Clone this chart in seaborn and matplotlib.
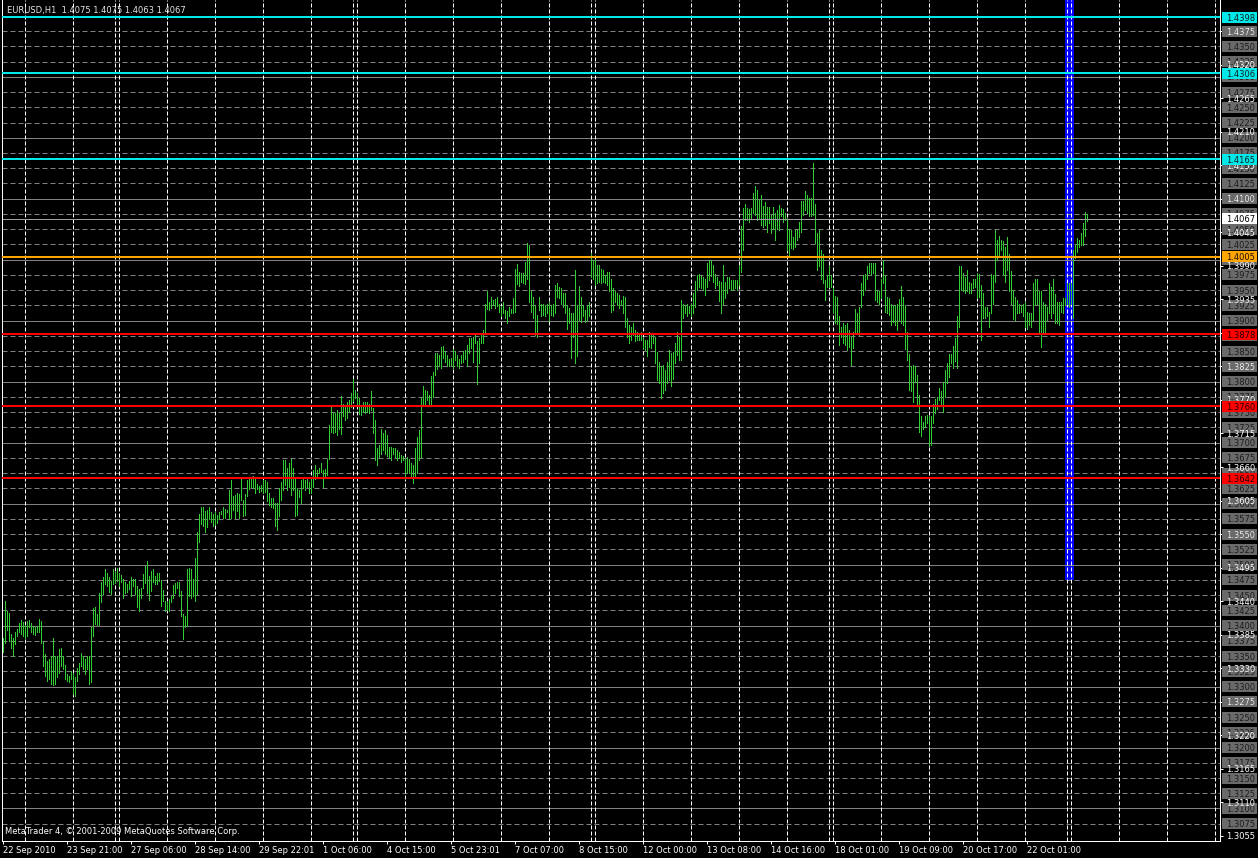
"""
plot.py
=======
MetaTrader-style EURUSD H1 bar chart, redrawn with seaborn/matplotlib.
"""

import numpy as np
import pandas as pd
import matplotlib
matplotlib.use("Agg")
import matplotlib.pyplot as plt
import matplotlib.transforms as mtransforms
from matplotlib.patches import Rectangle
import seaborn as sns

# ── Colours ───────────────────────────────────────────────────────────────────
BG        = "#000000"
BAR_COL   = "#32cd32"
GRID_GRAY = "#808080"
BOX_GRAY  = "#6a6a6a"
BOX_TEXT  = "#1c1c1c"
WHITE     = "#ffffff"
CYAN      = "#00e8e8"
RED       = "#ff0000"
ORANGE    = "#ffa500"
BLUE      = "#0000ff"
BID_GRAY  = "#a0a0a0"

# ── Data: hourly bars (high / low), 22 Sep 2010 13:00 onwards ────────────────
HIGH = [
    1.3380, 1.3441, 1.3424, 1.3420, 1.3386, 1.3379, 1.3390, 1.3395, 1.3405, 1.3409,
    1.3406, 1.3401, 1.3408, 1.3409, 1.3405, 1.3400, 1.3397, 1.3400, 1.3411, 1.3408,
    1.3373, 1.3353, 1.3342, 1.3345, 1.3350, 1.3379, 1.3350, 1.3350, 1.3362, 1.3364,
    1.3350, 1.3335, 1.3320, 1.3317, 1.3326, 1.3323, 1.3315, 1.3331, 1.3339, 1.3355,
    1.3350, 1.3345, 1.3350, 1.3350, 1.3397, 1.3428, 1.3431, 1.3419, 1.3454, 1.3471,
    1.3479, 1.3493, 1.3487, 1.3479, 1.3473, 1.3493, 1.3488, 1.3494, 1.3487, 1.3483,
    1.3477, 1.3471, 1.3468, 1.3473, 1.3479, 1.3477, 1.3476, 1.3465, 1.3460, 1.3462,
    1.3484, 1.3498, 1.3506, 1.3482, 1.3490, 1.3493, 1.3482, 1.3487, 1.3486, 1.3475,
    1.3459, 1.3441, 1.3439, 1.3443, 1.3449, 1.3466, 1.3470, 1.3471, 1.3471, 1.3457,
    1.3419, 1.3416, 1.3493, 1.3494, 1.3492, 1.3476, 1.3510, 1.3553, 1.3583, 1.3594,
    1.3594, 1.3588, 1.3590, 1.3594, 1.3586, 1.3583, 1.3587, 1.3581, 1.3587, 1.3588,
    1.3594, 1.3591, 1.3590, 1.3623, 1.3638, 1.3612, 1.3614, 1.3618, 1.3616, 1.3640,
    1.3606, 1.3616, 1.3638, 1.3640, 1.3640, 1.3646, 1.3640, 1.3632, 1.3629, 1.3631,
    1.3638, 1.3638, 1.3636, 1.3618, 1.3610, 1.3610, 1.3601, 1.3601, 1.3625, 1.3636,
    1.3671, 1.3671, 1.3658, 1.3666, 1.3673, 1.3658, 1.3644, 1.3625, 1.3622, 1.3639,
    1.3644, 1.3639, 1.3641, 1.3636, 1.3641, 1.3655, 1.3663, 1.3655, 1.3659, 1.3666,
    1.3655, 1.3656, 1.3673, 1.3729, 1.3762, 1.3751, 1.3749, 1.3753, 1.3748, 1.3776,
    1.3764, 1.3759, 1.3766, 1.3770, 1.3782, 1.3804, 1.3787, 1.3782, 1.3773, 1.3759,
    1.3767, 1.3766, 1.3767, 1.3764, 1.3784, 1.3756, 1.3737, 1.3691, 1.3696, 1.3723,
    1.3716, 1.3721, 1.3712, 1.3693, 1.3693, 1.3692, 1.3691, 1.3688, 1.3684, 1.3680,
    1.3678, 1.3673, 1.3677, 1.3673, 1.3666, 1.3663, 1.3691, 1.3710, 1.3721, 1.3773,
    1.3793, 1.3786, 1.3785, 1.3778, 1.3809, 1.3816, 1.3847, 1.3847, 1.3843, 1.3857,
    1.3858, 1.3851, 1.3844, 1.3837, 1.3838, 1.3854, 1.3851, 1.3844, 1.3837, 1.3844,
    1.3851, 1.3852, 1.3860, 1.3871, 1.3871, 1.3874, 1.3879, 1.3866, 1.3871, 1.3876,
    1.3885, 1.3927, 1.3948, 1.3931, 1.3939, 1.3934, 1.3935, 1.3939, 1.3927, 1.3924,
    1.3931, 1.3917, 1.3916, 1.3923, 1.3919, 1.3937, 1.3984, 1.3993, 1.3980, 1.3978,
    1.3978, 1.3997, 1.4028, 1.4024, 1.3948, 1.3939, 1.3926, 1.3909, 1.3939, 1.3928,
    1.3927, 1.3926, 1.3928, 1.3931, 1.3926, 1.3928, 1.3958, 1.3961, 1.3956, 1.3953,
    1.3945, 1.3945, 1.3926, 1.3920, 1.3912, 1.3912, 1.3983, 1.3926, 1.3957, 1.3939,
    1.3926, 1.3917, 1.3926, 1.3931, 1.4010, 1.3999, 1.3999, 1.3991, 1.3991, 1.3984,
    1.3983, 1.3975, 1.3980, 1.3980, 1.3969, 1.3953, 1.3948, 1.3945, 1.3942, 1.3934,
    1.3940, 1.3939, 1.3904, 1.3893, 1.3890, 1.3896, 1.3885, 1.3882, 1.3880, 1.3882,
    1.3871, 1.3868, 1.3868, 1.3882, 1.3880, 1.3879, 1.3874, 1.3849, 1.3833, 1.3825,
    1.3827, 1.3819, 1.3833, 1.3852, 1.3847, 1.3849, 1.3864, 1.3882, 1.3874, 1.3934,
    1.3927, 1.3926, 1.3928, 1.3924, 1.3928, 1.3946, 1.3965, 1.3975, 1.3976, 1.3975,
    1.3972, 1.3969, 1.3994, 1.3999, 1.3999, 1.3991, 1.3976, 1.3972, 1.3965, 1.3964,
    1.3991, 1.3964, 1.3972, 1.3971, 1.3966, 1.3966, 1.3966, 1.3967, 1.3990, 1.4055,
    1.4084, 1.4092, 1.4084, 1.4083, 1.4084, 1.4109, 1.4121, 1.4115, 1.4098, 1.4106,
    1.4088, 1.4095, 1.4087, 1.4087, 1.4073, 1.4087, 1.4076, 1.4081, 1.4090, 1.4084,
    1.4083, 1.4076, 1.4068, 1.4051, 1.4049, 1.4037, 1.4048, 1.4049, 1.4062, 1.4097,
    1.4097, 1.4113, 1.4106, 1.4101, 1.4101, 1.4158, 1.4092, 1.4043, 1.4049, 1.4016,
    1.4010, 1.3967, 1.3975, 1.3989, 1.3975, 1.3953, 1.3940, 1.3939, 1.3908, 1.3890,
    1.3896, 1.3893, 1.3896, 1.3885, 1.3874, 1.3882, 1.3919, 1.3912, 1.3923, 1.3961,
    1.3975, 1.3976, 1.3989, 1.3994, 1.3995, 1.3994, 1.3994, 1.3950, 1.3948, 1.3969,
    1.3999, 1.3975, 1.3939, 1.3938, 1.3928, 1.3926, 1.3926, 1.3928, 1.3935, 1.3957,
    1.3939, 1.3926, 1.3882, 1.3846, 1.3825, 1.3827, 1.3825, 1.3811, 1.3778, 1.3744,
    1.3734, 1.3743, 1.3745, 1.3744, 1.3744, 1.3764, 1.3771, 1.3775, 1.3789, 1.3785,
    1.3800, 1.3819, 1.3830, 1.3846, 1.3846, 1.3858, 1.3871, 1.3908, 1.3990, 1.3989,
    1.3978, 1.3972, 1.3983, 1.3964, 1.3961, 1.3969, 1.3969, 1.3979, 1.3976, 1.3958,
    1.3945, 1.3923, 1.3923, 1.3915, 1.3976, 1.3975, 1.4049, 1.4033, 1.4039, 1.4033,
    1.4030, 1.4021, 1.4037, 1.4010, 1.3982, 1.3950, 1.3939, 1.3934, 1.3928, 1.3926,
    1.3927, 1.3931, 1.3915, 1.3912, 1.3912, 1.3961, 1.3969, 1.3968, 1.3948, 1.3948,
    1.3931, 1.3928, 1.3923, 1.3961, 1.3956, 1.3969, 1.3944, 1.3931, 1.3931, 1.3931,
    1.3937, 1.3937, 1.3961, 1.3962, 1.3961, 1.4016, 1.4024, 1.4035, 1.4033, 1.4043,
    1.4061, 1.4079, 1.4075,
]

LOW = [
    1.3357, 1.3372, 1.3393, 1.3375, 1.3364, 1.3350, 1.3370, 1.3383, 1.3389, 1.3386,
    1.3383, 1.3379, 1.3383, 1.3397, 1.3390, 1.3386, 1.3384, 1.3389, 1.3390, 1.3372,
    1.3334, 1.3318, 1.3309, 1.3313, 1.3304, 1.3302, 1.3304, 1.3315, 1.3323, 1.3334,
    1.3328, 1.3312, 1.3309, 1.3307, 1.3312, 1.3287, 1.3285, 1.3309, 1.3320, 1.3334,
    1.3328, 1.3320, 1.3328, 1.3304, 1.3307, 1.3383, 1.3402, 1.3401, 1.3401, 1.3439,
    1.3452, 1.3468, 1.3465, 1.3455, 1.3452, 1.3468, 1.3470, 1.3473, 1.3465, 1.3471,
    1.3446, 1.3454, 1.3455, 1.3460, 1.3449, 1.3465, 1.3452, 1.3430, 1.3424, 1.3446,
    1.3462, 1.3470, 1.3454, 1.3442, 1.3457, 1.3471, 1.3468, 1.3468, 1.3473, 1.3432,
    1.3441, 1.3424, 1.3426, 1.3424, 1.3438, 1.3446, 1.3454, 1.3462, 1.3448, 1.3416,
    1.3378, 1.3397, 1.3400, 1.3449, 1.3446, 1.3449, 1.3441, 1.3452, 1.3537, 1.3566,
    1.3564, 1.3554, 1.3562, 1.3574, 1.3570, 1.3563, 1.3565, 1.3568, 1.3574, 1.3583,
    1.3576, 1.3576, 1.3586, 1.3574, 1.3576, 1.3590, 1.3576, 1.3588, 1.3576, 1.3606,
    1.3580, 1.3581, 1.3613, 1.3624, 1.3628, 1.3625, 1.3618, 1.3624, 1.3619, 1.3621,
    1.3618, 1.3619, 1.3605, 1.3597, 1.3594, 1.3592, 1.3564, 1.3557, 1.3580, 1.3606,
    1.3622, 1.3630, 1.3622, 1.3628, 1.3614, 1.3622, 1.3580, 1.3581, 1.3611, 1.3601,
    1.3625, 1.3622, 1.3628, 1.3617, 1.3617, 1.3628, 1.3641, 1.3644, 1.3650, 1.3652,
    1.3628, 1.3644, 1.3647, 1.3673, 1.3718, 1.3715, 1.3718, 1.3712, 1.3723, 1.3714,
    1.3743, 1.3737, 1.3740, 1.3751, 1.3759, 1.3769, 1.3774, 1.3762, 1.3747, 1.3745,
    1.3751, 1.3749, 1.3751, 1.3748, 1.3753, 1.3715, 1.3671, 1.3663, 1.3677, 1.3682,
    1.3688, 1.3682, 1.3678, 1.3677, 1.3671, 1.3681, 1.3674, 1.3671, 1.3674, 1.3669,
    1.3671, 1.3641, 1.3650, 1.3650, 1.3644, 1.3634, 1.3644, 1.3650, 1.3672, 1.3677,
    1.3762, 1.3762, 1.3770, 1.3762, 1.3760, 1.3775, 1.3811, 1.3820, 1.3826, 1.3822,
    1.3838, 1.3833, 1.3826, 1.3825, 1.3827, 1.3823, 1.3836, 1.3825, 1.3822, 1.3830,
    1.3833, 1.3837, 1.3826, 1.3847, 1.3855, 1.3833, 1.3863, 1.3796, 1.3831, 1.3863,
    1.3863, 1.3882, 1.3919, 1.3917, 1.3920, 1.3926, 1.3920, 1.3924, 1.3915, 1.3908,
    1.3912, 1.3904, 1.3896, 1.3908, 1.3912, 1.3913, 1.3915, 1.3960, 1.3957, 1.3964,
    1.3961, 1.3960, 1.3969, 1.3931, 1.3915, 1.3904, 1.3876, 1.3874, 1.3917, 1.3907,
    1.3909, 1.3907, 1.3912, 1.3900, 1.3909, 1.3907, 1.3912, 1.3939, 1.3937, 1.3928,
    1.3923, 1.3913, 1.3887, 1.3896, 1.3838, 1.3874, 1.3830, 1.3842, 1.3901, 1.3898,
    1.3907, 1.3898, 1.3901, 1.3907, 1.3972, 1.3969, 1.3958, 1.3961, 1.3964, 1.3961,
    1.3964, 1.3961, 1.3958, 1.3948, 1.3915, 1.3917, 1.3931, 1.3926, 1.3920, 1.3926,
    1.3913, 1.3890, 1.3874, 1.3863, 1.3868, 1.3876, 1.3866, 1.3868, 1.3868, 1.3868,
    1.3855, 1.3852, 1.3842, 1.3857, 1.3855, 1.3863, 1.3830, 1.3803, 1.3798, 1.3773,
    1.3781, 1.3786, 1.3797, 1.3803, 1.3793, 1.3805, 1.3830, 1.3844, 1.3836, 1.3836,
    1.3904, 1.3912, 1.3907, 1.3912, 1.3907, 1.3912, 1.3923, 1.3950, 1.3956, 1.3953,
    1.3950, 1.3942, 1.3956, 1.3967, 1.3973, 1.3964, 1.3953, 1.3958, 1.3933, 1.3912,
    1.3928, 1.3937, 1.3945, 1.3953, 1.3951, 1.3951, 1.3953, 1.3951, 1.3958, 1.3980,
    1.4016, 1.4065, 1.4065, 1.4062, 1.4068, 1.4076, 1.4073, 1.4065, 1.4068, 1.4057,
    1.4054, 1.4057, 1.4046, 1.4060, 1.4044, 1.4051, 1.4032, 1.4051, 1.4049, 1.4071,
    1.4062, 1.4065, 1.4016, 1.4008, 1.4019, 1.4017, 1.4021, 1.4032, 1.4038, 1.4046,
    1.4073, 1.4081, 1.4076, 1.4071, 1.4071, 1.4073, 1.4027, 1.3983, 1.3989, 1.3969,
    1.3961, 1.3934, 1.3956, 1.3956, 1.3956, 1.3915, 1.3896, 1.3895, 1.3860, 1.3874,
    1.3863, 1.3860, 1.3852, 1.3857, 1.3827, 1.3855, 1.3882, 1.3882, 1.3876, 1.3923,
    1.3942, 1.3950, 1.3969, 1.3978, 1.3975, 1.3978, 1.3934, 1.3931, 1.3927, 1.3937,
    1.3961, 1.3915, 1.3913, 1.3909, 1.3893, 1.3898, 1.3893, 1.3885, 1.3901, 1.3896,
    1.3893, 1.3853, 1.3836, 1.3786, 1.3785, 1.3767, 1.3800, 1.3762, 1.3718, 1.3711,
    1.3722, 1.3726, 1.3732, 1.3694, 1.3696, 1.3732, 1.3748, 1.3755, 1.3770, 1.3762,
    1.3751, 1.3775, 1.3797, 1.3808, 1.3830, 1.3822, 1.3834, 1.3822, 1.3890, 1.3950,
    1.3948, 1.3945, 1.3948, 1.3945, 1.3945, 1.3953, 1.3956, 1.3937, 1.3939, 1.3868,
    1.3904, 1.3904, 1.3907, 1.3890, 1.3912, 1.3928, 1.3964, 1.3999, 1.4008, 1.4016,
    1.3975, 1.3964, 1.3983, 1.3948, 1.3928, 1.3902, 1.3901, 1.3912, 1.3912, 1.3915,
    1.3908, 1.3890, 1.3887, 1.3893, 1.3890, 1.3901, 1.3926, 1.3928, 1.3879, 1.3857,
    1.3879, 1.3879, 1.3901, 1.3912, 1.3904, 1.3912, 1.3896, 1.3896, 1.3893, 1.3915,
    1.3912, 1.3926, 1.3928, 1.3923, 1.3928, 1.3905, 1.4002, 1.4013, 1.4021, 1.4024,
    1.4024, 1.4039, 1.4063,
]

# bars per trading day (Wed 22 Sep partial ... Mon 25 Oct, then empty future days)
DAY_BARS = [11, 24, 21, 2,
            24, 24, 24, 24, 21, 2,
            24, 24, 24, 24, 21, 2,
            24, 24, 24, 24, 21, 2,
            24, 24, 24, 24, 21, 2,
            24, 24, 24, 24]

TIME_LABELS = ["22 Sep 2010", "23 Sep 21:00", "27 Sep 06:00", "28 Sep 14:00",
               "29 Sep 22:01", "1 Oct 06:00", "4 Oct 15:00", "5 Oct 23:01",
               "7 Oct 07:00", "8 Oct 15:00", "12 Oct 00:00", "13 Oct 08:00",
               "14 Oct 16:00", "18 Oct 01:00", "19 Oct 09:00", "20 Oct 17:00",
               "22 Oct 01:00"]
LABEL_STEP = 32

CYAN_LEVELS   = [1.4398, 1.4306, 1.4165]
ORANGE_LEVELS = [1.4005]
RED_LEVELS    = [1.3878, 1.3760, 1.3642]
BID_LEVEL     = 1.4067

LINE_STEP  = 0.0025          # horizontal level lines every 25 pips
LINE_RANGE = (1.3075, 1.4375)
SCALE_STEP = 0.0055          # native price scale
SCALE_RANGE = (1.3055, 1.4375)

BAND_BARS = (530.75, 535.25)  # blue vertical marker
BAND_LOW  = 1.3475

TITLE = "EURUSD,H1  1.4075 1.4075 1.4063 1.4067"
FOOTER = "MetaTrader 4, \u00a9 2001-2009 MetaQuotes Software Corp."

# ── Layout (pixels) ───────────────────────────────────────────────────────────
W, H = 1258, 858
PX = 0.72                     # one pixel in points at dpi 100
Y_TOP, Y_BOTTOM = 1.44259, 1.30467
X_LIM = (-0.5, 608.5)

sns.set_style("dark", {"axes.facecolor": BG, "figure.facecolor": BG})
plt.rcParams["font.family"] = ["DejaVu Sans"]

fig = plt.figure(figsize=(W / 100, H / 100), dpi=100)
ax = fig.add_axes([2 / W, 17 / H, 1218 / W, 841 / H])
ax.set_facecolor(BG)
ax.grid(False)

# blue band behind everything
ax.add_patch(Rectangle((BAND_BARS[0], BAND_LOW), BAND_BARS[1] - BAND_BARS[0],
                       Y_TOP - BAND_LOW, fc=BLUE, ec="none", zorder=0.5))

# gray horizontal level lines
levels = np.round(np.arange(LINE_RANGE[0], LINE_RANGE[1] + 1e-9, LINE_STEP), 4)
for lv in levels:
    solid = abs(lv * 100 - round(lv * 100)) < 1e-6
    ax.axhline(lv, color=GRID_GRAY, lw=PX, ls="-" if solid else (0, (5, 3)),
               zorder=1)

# day separators
day_starts = np.cumsum(DAY_BARS)[:-1]
for s in day_starts:
    ax.axvline(s, color=WHITE, lw=PX, ls=(0, (4, 2)), zorder=1.5)

# price bars
idx = np.arange(len(HIGH))
df = pd.DataFrame({"bar": np.repeat(idx, 2),
                   "price": np.column_stack([LOW, HIGH]).ravel()})
n_before = len(ax.lines)
sns.lineplot(data=df, x="bar", y="price", units="bar", estimator=None,
             sort=False, color=BAR_COL, linewidth=PX, ax=ax, legend=False,
             zorder=2)
for ln in ax.lines[n_before:]:
    ln.set_antialiased(False)

# coloured levels
ax.axhline(BID_LEVEL, color=BID_GRAY, lw=PX, zorder=2.5)
for lv in CYAN_LEVELS:
    ax.axhline(lv, color=CYAN, lw=2 * PX, zorder=3)
for lv in ORANGE_LEVELS:
    ax.axhline(lv, color=ORANGE, lw=2 * PX, zorder=3)
for lv in RED_LEVELS:
    ax.axhline(lv, color=RED, lw=2 * PX, zorder=3)

ax.set_xlim(*X_LIM)
ax.set_ylim(Y_BOTTOM, Y_TOP)
ax.set_xlabel("")
ax.set_ylabel("")

# axes frame
for side in ("left", "bottom", "right"):
    ax.spines[side].set_visible(True)
    ax.spines[side].set_color(WHITE)
    ax.spines[side].set_linewidth(PX)
ax.spines["top"].set_visible(False)

# bottom time axis
ax.set_xticks(np.arange(len(TIME_LABELS)) * LABEL_STEP)
ax.set_xticklabels(TIME_LABELS, ha="left")
ax.tick_params(axis="x", direction="out", length=3 * PX, width=PX,
               colors=WHITE, labelsize=6, pad=1.5, bottom=True)

# right price scale ticks (labels drawn by hand below)
scale = np.round(np.arange(SCALE_RANGE[0], SCALE_RANGE[1] + 1e-9, SCALE_STEP), 4)
ax.yaxis.set_ticks_position("right")
ax.set_yticks(scale)
ax.tick_params(axis="y", direction="out", length=3 * PX, width=PX,
               colors=WHITE, labelright=False, labelleft=False, right=True)

# ── Right-hand price labels ──────────────────────────────────────────────────
trans = mtransforms.blended_transform_factory(fig.transFigure, ax.transData)
BOX_X, BOX_W = 1222 / W, 35 / W
BOX_H = 11 / 6098
TEXT_X = 1226 / W


def price_box(level, face, text_col, z):
    fig.add_artist(Rectangle((BOX_X, level - BOX_H / 2), BOX_W, BOX_H,
                             transform=trans, fc=face, ec="none", zorder=z))
    fig.text(TEXT_X, level, f"{level:.4f}", transform=trans, color=text_col,
             fontsize=6, va="center_baseline", ha="left", zorder=z + 0.1)


for lv in levels:
    price_box(lv, BOX_GRAY, BOX_TEXT, 1)

for lv in scale:
    fig.text(TEXT_X, lv, f"{lv:.4f}", transform=trans, color=WHITE,
             fontsize=6, va="center_baseline", ha="left", zorder=3)

price_box(BID_LEVEL, WHITE, "#000000", 4)
for lv in CYAN_LEVELS:
    price_box(lv, CYAN, "#102020", 4)
for lv in ORANGE_LEVELS:
    price_box(lv, ORANGE, "#201000", 4)
for lv in RED_LEVELS:
    price_box(lv, RED, "#200000", 4)

# ── Header / footer text ─────────────────────────────────────────────────────
fig.text(7 / W, 1 - 10 / H, TITLE, color="#e6e6e6", fontsize=6, va="center",
         ha="left", zorder=5)
fig.text(5 / W, 1 - 832 / H, FOOTER, color=WHITE, fontsize=6, va="center",
         ha="left", zorder=5)

fig.savefig("out.png", dpi=100, facecolor=BG)
plt.close(fig)
